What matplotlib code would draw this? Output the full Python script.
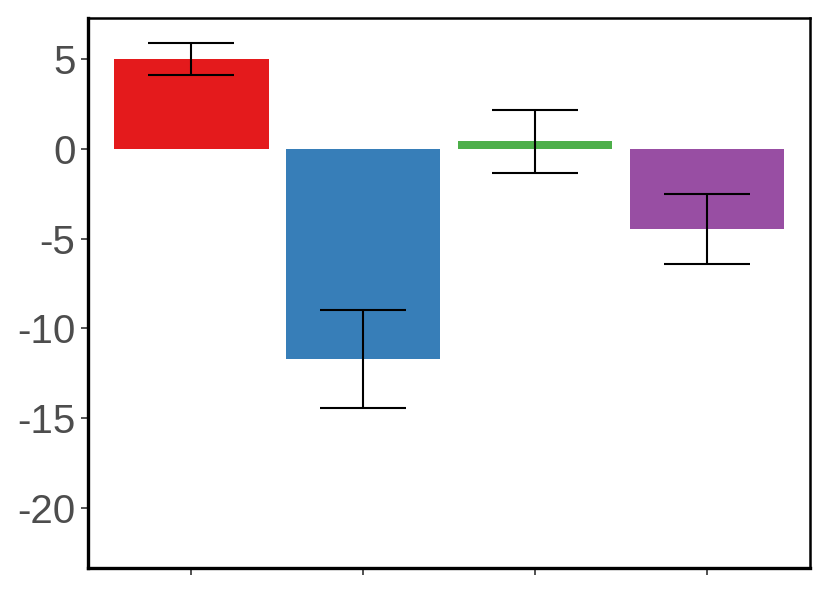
import numpy as np
import matplotlib.pyplot as plt

plt.rcParams['font.family'] = ['Liberation Sans', 'DejaVu Sans']

# values
groups = ['A', 'B', 'C', 'D']
means = [5.0, -11.7, 0.41, -4.48]
errors = [0.88, 2.73, 1.78, 1.95]
colors = ['#E41A1C', '#377EB8', '#4DAF4A', '#984EA3']
yticks = [5, 0, -5, -10, -15, -20]

fig = plt.figure(figsize=(8.3, 5.93), dpi=100)
ax = fig.add_axes([0.106, 0.042, 0.870, 0.928])

x = np.arange(1, len(groups) + 1)
ax.bar(x, means, width=0.9, color=colors, zorder=2)
ax.errorbar(x, means, yerr=errors, fmt='none', ecolor='black',
            elinewidth=1.5, capsize=31, capthick=1.5, zorder=3)

ax.set_xlim(0.4, 4.6)
ax.set_ylim(-23.36, 7.3)
ax.set_xticks(x)
ax.set_xticklabels([])
ax.set_yticks(yticks)
ax.set_yticklabels([str(v) for v in yticks])
ax.tick_params(axis='both', length=5, width=1.2, color='#333333',
               labelsize=29, labelcolor='#4D4D4D', pad=4)

for side in ['left', 'bottom']:
    ax.spines[side].set_linewidth(2.4)
for side in ['top', 'right']:
    ax.spines[side].set_linewidth(1.8)

fig.savefig('out.png', dpi=100)
